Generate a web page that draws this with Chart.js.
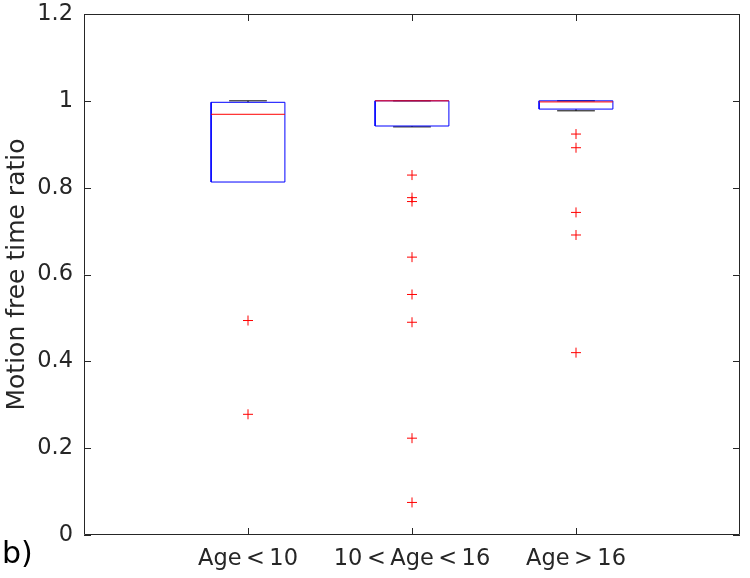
<!DOCTYPE html>
<html lang="en">
<head>
<meta charset="UTF-8">
<title>Motion free time ratio</title>
<style>
  html, body { margin: 0; padding: 0; background: #fff; }
  #wrap { width: 750px; height: 578px; position: relative; }
</style>
</head>
<body>
<div id="wrap"><canvas id="myChart" width="750" height="578"></canvas></div>

<script src="https://cdn.jsdelivr.net/npm/chart.js"></script>
<script>
    // values
    const categories = ['Age<10', '10<Age<16', 'Age>16'];
    const q1 = [0.813, 0.942, 0.981];
    const medians = [0.969, 1.0, 0.9975];
    const q3 = [0.9966, 1.0, 1.0];
    const whiskerLow = [0.813, 0.940, 0.977];
    const whiskerHigh = [1.0, 1.0, 1.0];
    const outliers = [
        [0.494, 0.278],
        [0.829, 0.777, 0.768, 0.640, 0.554, 0.490, 0.223, 0.075],
        [0.9235, 0.892, 0.743, 0.691, 0.420]
    ];
    const yTicks = [0, 0.2, 0.4, 0.6, 0.8, 1, 1.2];

    const boxHalf = 0.225;
    const capHalf = 0.115;
    const axisColor = '#262626';
    const fontFamily = "'DejaVu Sans', sans-serif";

    const datasets = [];
    const line = (pts, color, dash) => ({
        type: 'scatter',
        data: pts,
        showLine: true,
        borderColor: color,
        borderWidth: 1,
        borderDash: dash || [],
        pointRadius: 0,
        fill: false
    });

    // medians first so they end up on top
    categories.forEach((c, i) => {
        const x = i + 1;
        datasets.push(line([{ x: x - boxHalf, y: medians[i] }, { x: x + boxHalf, y: medians[i] }], '#ff0000'));
    });
    // boxes
    categories.forEach((c, i) => {
        const x = i + 1;
        datasets.push(line([
            { x: x - boxHalf, y: q1[i] }, { x: x + boxHalf, y: q1[i] },
            { x: x + boxHalf, y: q3[i] }, { x: x - boxHalf, y: q3[i] },
            { x: x - boxHalf, y: q1[i] }
        ], '#0000ff'));
    });
    // whiskers + caps (skipped where the whisker sits on the box edge)
    categories.forEach((c, i) => {
        const x = i + 1;
        if (whiskerHigh[i] !== q3[i]) {
            datasets.push(line([{ x: x, y: q3[i] }, { x: x, y: whiskerHigh[i] }], '#000000', [4, 3]));
        }
        datasets.push(line([{ x: x - capHalf, y: whiskerHigh[i] }, { x: x + capHalf, y: whiskerHigh[i] }], '#000000'));
        if (whiskerLow[i] !== q1[i]) {
            datasets.push(line([{ x: x, y: q1[i] }, { x: x, y: whiskerLow[i] }], '#000000', [4, 3]));
            datasets.push(line([{ x: x - capHalf, y: whiskerLow[i] }, { x: x + capHalf, y: whiskerLow[i] }], '#000000'));
        }
    });
    // outliers
    outliers.forEach((vals, i) => {
        datasets.push({
            type: 'scatter',
            data: vals.map(v => ({ x: i + 1, y: v })),
            pointStyle: 'cross',
            pointRadius: 5,
            borderColor: '#ff0000',
            borderWidth: 1,
            showLine: false
        });
    });

    // frame, inward ticks and the "b)" tag
    const framePlugin = {
        id: 'frame',
        afterDraw(chart) {
            const ctx = chart.ctx;
            const a = chart.chartArea;
            const xs = chart.scales.x, ys = chart.scales.y;
            ctx.save();
            ctx.strokeStyle = axisColor;
            ctx.lineWidth = 1;
            ctx.beginPath();
            ctx.moveTo(a.left + 0.5, a.top + 0.5);
            ctx.lineTo(a.right - 0.5, a.top + 0.5);
            ctx.lineTo(a.right - 0.5, a.bottom - 0.5);
            ctx.lineTo(a.left + 0.5, a.bottom - 0.5);
            ctx.closePath();
            ctx.stroke();
            const tl = 7;
            ctx.beginPath();
            yTicks.forEach(v => {
                const y = Math.round(ys.getPixelForValue(v)) + 0.5;
                ctx.moveTo(a.left, y); ctx.lineTo(a.left + tl, y);
                ctx.moveTo(a.right, y); ctx.lineTo(a.right - tl, y);
            });
            categories.forEach((c, i) => {
                const x = Math.round(xs.getPixelForValue(i + 1)) + 0.5;
                ctx.moveTo(x, a.bottom); ctx.lineTo(x, a.bottom - tl);
                ctx.moveTo(x, a.top); ctx.lineTo(x, a.top + tl);
            });
            ctx.stroke();
            ctx.fillStyle = '#000';
            ctx.font = '30px ' + fontFamily;
            ctx.textBaseline = 'alphabetic';
            ctx.textAlign = 'left';
            ctx.fillText('b)', 2, 563);
            ctx.restore();
        }
    };

    // TeX-like spacing round < and > in the category labels
    const texSpace = s => s.replace(/([<>])/g, '\u2009$1\u2009');

    new Chart(document.getElementById('myChart'), {
        type: 'scatter',
        data: { datasets: datasets },
        options: {
            responsive: false,
            animation: false,
            layout: { padding: { top: 14, right: 10, left: 0, bottom: 0 } },
            plugins: { legend: { display: false }, tooltip: { enabled: false } },
            scales: {
                x: {
                    type: 'linear', min: 0, max: 4,
                    afterBuildTicks: s => { s.ticks = categories.map((c, i) => ({ value: i + 1 })); },
                    afterFit: s => { s.height = 43; s.paddingLeft = 0; s.paddingRight = 0; },
                    grid: { display: false, drawTicks: false },
                    border: { display: false },
                    ticks: {
                        callback: v => texSpace(categories[v - 1]),
                        font: { family: fontFamily, size: 22.5 },
                        color: axisColor,
                        padding: 11,
                        maxRotation: 0,
                        autoSkip: false
                    }
                },
                y: {
                    type: 'linear', min: 0, max: 1.2,
                    afterBuildTicks: s => { s.ticks = yTicks.map(v => ({ value: v })); },
                    afterFit: s => { s.width = 84; s.paddingTop = 0; s.paddingBottom = 0; },
                    grid: { display: false, drawTicks: false },
                    border: { display: false },
                    ticks: {
                        callback: v => String(Math.round(v * 10) / 10),
                        font: { family: fontFamily, size: 22.5 },
                        color: axisColor,
                        padding: 11
                    },
                    title: {
                        display: true,
                        text: 'Motion free time ratio',
                        font: { family: fontFamily, size: 25 },
                        color: axisColor,
                        padding: { top: 2, bottom: 0 }
                    }
                }
            }
        },
        plugins: [framePlugin]
    });
</script>
</body>
</html>
